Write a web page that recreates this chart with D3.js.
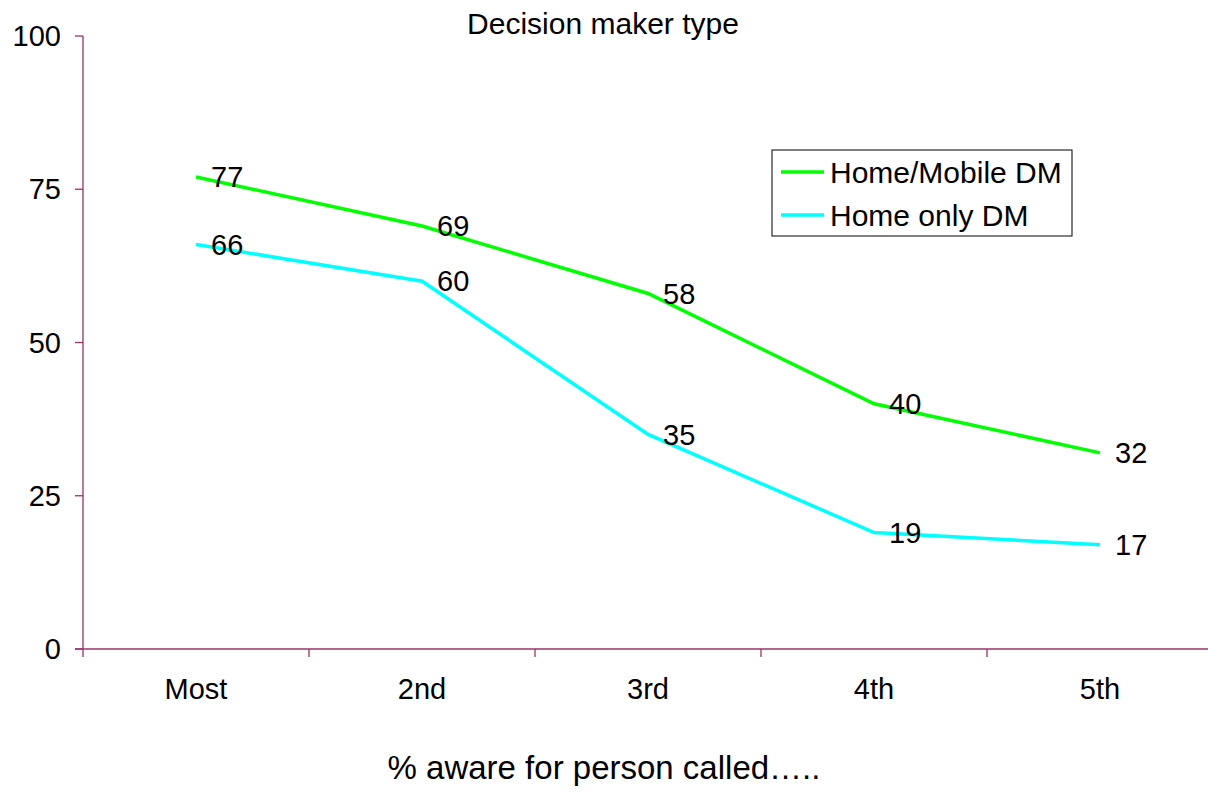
<!DOCTYPE html>
<html>
<head>
<meta charset="utf-8">
<script src="https://cdn.jsdelivr.net/npm/d3@7"></script>
<style>
  body { margin: 0; background: #fff; }
  text { font-family: "Liberation Sans", Arial, sans-serif; fill: #000; }
</style>
</head>
<body>
<script>
var categories = ["Most", "2nd", "3rd", "4th", "5th"];
var homeMobile = [77, 69, 58, 40, 32];
var homeOnly = [66, 60, 35, 19, 17];
var yTicks = [0, 25, 50, 75, 100];

var series = [
  { name: "Home/Mobile DM", values: homeMobile, color: "#00ff00" },
  { name: "Home only DM", values: homeOnly, color: "#00ffff" }
];

var axisColor = "#993366";
var fs = 29;
var w = 1208, h = 796;

var svg = d3.select("body").append("svg")
  .attr("width", w)
  .attr("height", h);

var x = d3.scaleBand().domain(categories).range([83, 1213]);
var y = d3.scaleLinear().domain([0, 100]).range([649, 36]);

// y axis
svg.append("line")
  .attr("x1", 83).attr("x2", 83)
  .attr("y1", y(100)).attr("y2", y(0))
  .attr("stroke", axisColor).attr("stroke-width", 1.3);

svg.selectAll(".ytick")
  .data(yTicks)
  .enter().append("line")
  .attr("x1", 75).attr("x2", 83)
  .attr("y1", function(d) { return y(d); })
  .attr("y2", function(d) { return y(d); })
  .attr("stroke", axisColor).attr("stroke-width", 1.3);

svg.selectAll(".ylab")
  .data(yTicks)
  .enter().append("text")
  .attr("x", 61)
  .attr("y", function(d) { return y(d); })
  .attr("dy", "0.35em")
  .attr("text-anchor", "end")
  .attr("font-size", fs)
  .text(function(d) { return d; });

// x axis
svg.append("line")
  .attr("x1", 75).attr("x2", 1213)
  .attr("y1", y(0)).attr("y2", y(0))
  .attr("stroke", axisColor).attr("stroke-width", 1.3);

svg.selectAll(".xtick")
  .data(categories)
  .enter().append("line")
  .attr("x1", function(d) { return x(d); })
  .attr("x2", function(d) { return x(d); })
  .attr("y1", y(0)).attr("y2", y(0) + 8)
  .attr("stroke", axisColor).attr("stroke-width", 1.3);

svg.selectAll(".xlab")
  .data(categories)
  .enter().append("text")
  .attr("x", function(d) { return x(d) + x.bandwidth() / 2; })
  .attr("y", 699)
  .attr("text-anchor", "middle")
  .attr("font-size", fs)
  .text(function(d) { return d; });

// lines
var line = d3.line()
  .x(function(d, i) { return x(categories[i]) + x.bandwidth() / 2; })
  .y(function(d) { return y(d); });

series.forEach(function(s) {
  svg.append("path")
    .datum(s.values)
    .attr("d", line)
    .attr("fill", "none")
    .attr("stroke", s.color)
    .attr("stroke-width", 3.5);
});

// value labels
series.forEach(function(s) {
  svg.selectAll(null)
    .data(s.values)
    .enter().append("text")
    .attr("x", function(d, i) { return x(categories[i]) + x.bandwidth() / 2 + 15; })
    .attr("y", function(d) { return y(d); })
    .attr("dy", "0.35em")
    .attr("font-size", fs)
    .text(function(d) { return d; });
});

// legend
var legend = svg.append("g");
legend.append("rect")
  .attr("x", 772).attr("y", 150)
  .attr("width", 300).attr("height", 86)
  .attr("fill", "#fff").attr("stroke", "#000").attr("stroke-width", 1);

series.forEach(function(s, i) {
  var ly = 172 + i * 43;
  legend.append("line")
    .attr("x1", 781).attr("x2", 824)
    .attr("y1", ly).attr("y2", ly)
    .attr("stroke", s.color).attr("stroke-width", 3.5);
  legend.append("text")
    .attr("x", 830).attr("y", ly)
    .attr("dy", "0.35em")
    .attr("font-size", 30)
    .text(s.name);
});

// titles
svg.append("text")
  .attr("x", 603).attr("y", 34)
  .attr("text-anchor", "middle")
  .attr("font-size", 30)
  .text("Decision maker type");

svg.append("text")
  .attr("x", 604).attr("y", 779)
  .attr("text-anchor", "middle")
  .attr("font-size", 33)
  .text("% aware for person called…..");
</script>
</body>
</html>
